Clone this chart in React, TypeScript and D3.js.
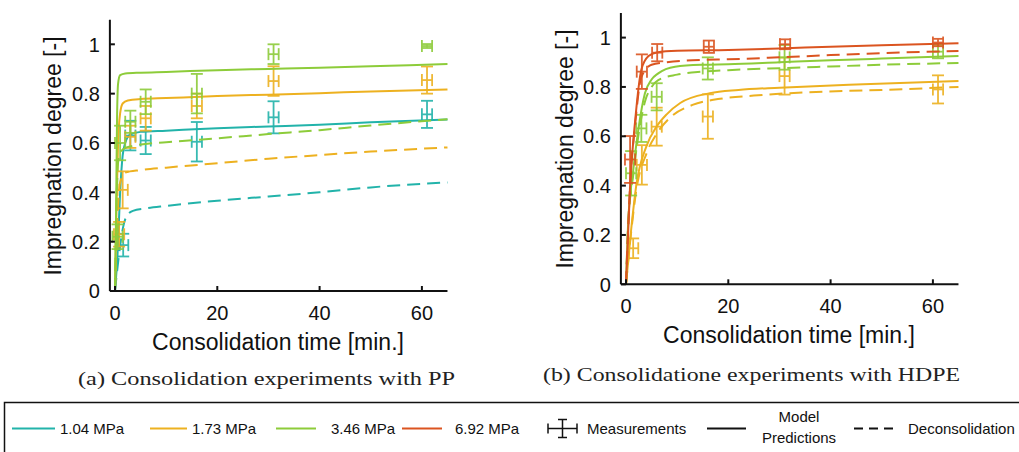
import * as d3 from "d3";

// legend / series
const pressures = ["1.04 MPa", "1.73 MPa", "3.46 MPa", "6.92 MPa"];
const colors = ["#22B3AA", "#EDB120", "#8DCC3A", "#DB5420"];

const xTicks = [0, 20, 40, 60];
const yTicks = [0, 0.2, 0.4, 0.6, 0.8, 1];

// PP measurements (time [min], degree, +/- error)
const ppTealT = [1.6, 3, 6, 16, 31, 61];
const ppTealY = [0.186, 0.63, 0.61, 0.605, 0.704, 0.716];
const ppTealE = [0.046, 0.06, 0.055, 0.08, 0.065, 0.055];
const ppYellowT = [0.8, 1.5, 3, 6, 16, 31, 61];
const ppYellowY = [0.23, 0.41, 0.625, 0.7, 0.75, 0.851, 0.855];
const ppYellowE = [0.05, 0.075, 0.045, 0.05, 0.05, 0.06, 0.055];
const ppGreenT = [0.5, 1, 3, 6, 16, 31, 61];
const ppGreenY = [0.22, 0.6, 0.686, 0.767, 0.8, 0.96, 0.993];
const ppGreenE = [0.05, 0.07, 0.045, 0.05, 0.08, 0.04, 0.008];

// PP model predictions [t, degree]
const ppTealModel = [[0, 0], [0.5, 0.15], [1, 0.4], [1.5, 0.55], [2, 0.6], [3, 0.635], [5, 0.645], [10, 0.65], [20, 0.66], [30, 0.667], [40, 0.674], [50, 0.684], [65, 0.695]];
const ppYellowModel = [[0, 0], [0.3, 0.35], [0.6, 0.6], [1, 0.72], [1.5, 0.76], [2.5, 0.772], [5, 0.778], [10, 0.782], [20, 0.79], [30, 0.796], [40, 0.802], [50, 0.809], [65, 0.817]];
const ppGreenModel = [[0, 0], [0.2, 0.3], [0.4, 0.7], [0.6, 0.84], [1, 0.875], [2, 0.882], [5, 0.885], [10, 0.888], [20, 0.895], [30, 0.9], [40, 0.905], [50, 0.911], [65, 0.92]];
// PP deconsolidation
const ppTealDecon = [[0, 0], [0.8, 0.15], [1.6, 0.26], [2.3, 0.305], [3.5, 0.325], [6, 0.335], [10, 0.345], [20, 0.366], [30, 0.383], [40, 0.4], [50, 0.42], [65, 0.44]];
const ppYellowDecon = [[0, 0], [0.5, 0.3], [1, 0.44], [2, 0.48], [5, 0.49], [10, 0.5], [20, 0.518], [30, 0.536], [40, 0.551], [50, 0.565], [65, 0.582]];
const ppGreenDecon = [[0, 0], [0.3, 0.35], [0.6, 0.52], [1, 0.56], [2, 0.58], [4, 0.59], [10, 0.603], [20, 0.619], [30, 0.636], [40, 0.652], [50, 0.671], [65, 0.696]];

// HDPE measurements
const peYellowT = [1.4, 3.1, 6, 16, 31, 61];
const peYellowY = [0.146, 0.484, 0.639, 0.68, 0.844, 0.79];
const peYellowE = [0.04, 0.08, 0.077, 0.09, 0.075, 0.057];
const peGreenT = [1, 3, 6, 16, 31, 61];
const peGreenY = [0.45, 0.632, 0.76, 0.875, 0.92, 0.943];
const peGreenE = [0.09, 0.055, 0.055, 0.045, 0.05, 0.027];
const peOrangeT = [0.8, 3.1, 6.1, 16.2, 31.1, 61];
const peOrangeY = [0.506, 0.862, 0.939, 0.963, 0.973, 0.98];
const peOrangeE = [0.095, 0.07, 0.035, 0.025, 0.02, 0.015];

// HDPE model predictions
const peYellowModel = [[0, 0], [1, 0.22], [2, 0.4], [4, 0.56], [6, 0.64], [8, 0.69], [10.6, 0.735], [16.4, 0.775], [22, 0.788], [30, 0.797], [45, 0.81], [65, 0.824]];
const peGreenModel = [[0, 0], [0.45, 0.26], [1.4, 0.46], [2.4, 0.625], [3.7, 0.774], [5, 0.83], [6.3, 0.855], [9.6, 0.882], [15, 0.89], [20, 0.892], [30, 0.9], [40, 0.908], [50, 0.915], [65, 0.925]];
const peOrangeModel = [[0, 0], [0.8, 0.4], [1.8, 0.666], [3, 0.87], [4.4, 0.925], [6, 0.94], [10, 0.947], [20, 0.95], [30, 0.956], [40, 0.963], [50, 0.969], [65, 0.977]];
// HDPE deconsolidation
const peYellowDecon = [[0, 0], [1, 0.21], [2, 0.38], [4, 0.53], [6, 0.61], [8.6, 0.675], [13, 0.727], [18.4, 0.752], [25, 0.765], [35, 0.778], [50, 0.788], [65, 0.8]];
const peGreenDecon = [[0, 0], [0.45, 0.25], [1.4, 0.44], [2.4, 0.6], [3.7, 0.74], [5, 0.8], [6.3, 0.828], [10, 0.85], [15, 0.862], [20, 0.868], [30, 0.876], [40, 0.883], [50, 0.89], [65, 0.897]];
const peOrangeDecon = [[0, 0], [0.8, 0.4], [1.8, 0.65], [3, 0.84], [5, 0.89], [8, 0.9], [15, 0.91], [20, 0.912], [30, 0.92], [40, 0.929], [50, 0.937], [65, 0.946]];

const X_ERR = 1;
const CAP = 6;

type Series = {
  color: string;
  t: number[];
  y: number[];
  e: number[];
  model: number[][];
  decon: number[][];
};

const ppSeries: Series[] = [
  { color: colors[0], t: ppTealT, y: ppTealY, e: ppTealE, model: ppTealModel, decon: ppTealDecon },
  { color: colors[1], t: ppYellowT, y: ppYellowY, e: ppYellowE, model: ppYellowModel, decon: ppYellowDecon },
  { color: colors[2], t: ppGreenT, y: ppGreenY, e: ppGreenE, model: ppGreenModel, decon: ppGreenDecon },
];

const peSeries: Series[] = [
  { color: colors[1], t: peYellowT, y: peYellowY, e: peYellowE, model: peYellowModel, decon: peYellowDecon },
  { color: colors[2], t: peGreenT, y: peGreenY, e: peGreenE, model: peGreenModel, decon: peGreenDecon },
  { color: colors[3], t: peOrangeT, y: peOrangeY, e: peOrangeE, model: peOrangeModel, decon: peOrangeDecon },
];

const FONT = "Liberation Sans, Arial, sans-serif";

type PanelProps = {
  x0: number; // pixel of t = 0
  y0: number; // pixel of degree = 0
  series: Series[];
  titleX: number;
  titleY: number;
  xTitleY: number;
  xTitleX: number;
};

const Panel = ({ x0, y0, series, titleX, titleY, xTitleY, xTitleX }: PanelProps) => {
  const pxPerMin = 5.115;
  const pxPerUnit = 246.7;
  const xScale = d3.scaleLinear().domain([-1, 65]).range([x0 - pxPerMin, x0 + 65 * pxPerMin]);
  const yScale = d3.scaleLinear().domain([0, 1.1]).range([y0, y0 - 1.1 * pxPerUnit]);
  const [xa, xb] = xScale.range();
  const [ya, yb] = yScale.range();

  const line = d3
    .line<number[]>()
    .x((d) => xScale(d[0]))
    .y((d) => yScale(d[1]))
    .curve(d3.curveMonotoneX);

  return (
    <g>
      {series.map((s, i) => (
        <g key={i} stroke={s.color} fill="none" strokeWidth={2}>
          <path d={line(s.decon) ?? ""} strokeDasharray="13,7" />
          <path d={line(s.model) ?? ""} />
          {s.t.map((t, j) => {
            const cx = xScale(t);
            const cy = yScale(s.y[j]);
            const top = yScale(s.y[j] + s.e[j]);
            const bot = yScale(s.y[j] - s.e[j]);
            const l = xScale(t - X_ERR);
            const r = xScale(t + X_ERR);
            return (
              <g key={j} strokeWidth={1.8} opacity={0.9}>
                <line x1={cx} x2={cx} y1={top} y2={bot} />
                <line x1={cx - CAP} x2={cx + CAP} y1={top} y2={top} />
                <line x1={cx - CAP} x2={cx + CAP} y1={bot} y2={bot} />
                <line x1={l} x2={r} y1={cy} y2={cy} />
                <line x1={l} x2={l} y1={cy - CAP} y2={cy + CAP} />
                <line x1={r} x2={r} y1={cy - CAP} y2={cy + CAP} />
              </g>
            );
          })}
        </g>
      ))}

      {/* axes */}
      <g stroke="#111" strokeWidth={2} fill="none">
        <line x1={xa} x2={xa} y1={ya} y2={yb} />
        <line x1={xa} x2={xb} y1={ya} y2={ya} />
        {xTicks.map((t) => (
          <line key={t} x1={xScale(t)} x2={xScale(t)} y1={ya} y2={ya - 5} />
        ))}
        {yTicks.map((t) => (
          <line key={t} x1={xa} x2={xa + 5} y1={yScale(t)} y2={yScale(t)} />
        ))}
      </g>
      <g fontFamily={FONT} fontSize={20} fill="#111">
        {xTicks.map((t) => (
          <text key={t} x={xScale(t)} y={ya + 29} textAnchor="middle">
            {t}
          </text>
        ))}
        {yTicks.map((t) => (
          <text key={t} x={xa - 10} y={yScale(t)} dy="0.36em" textAnchor="end">
            {t}
          </text>
        ))}
      </g>
      <text
        fontFamily={FONT}
        fontSize={23}
        fill="#111"
        textAnchor="middle"
        transform={`translate(${titleX},${titleY}) rotate(-90)`}
      >
        Impregnation degree [-]
      </text>
      <text fontFamily={FONT} fontSize={23} fill="#111" textAnchor="middle" x={xTitleX} y={xTitleY}>
        Consolidation time [min.]
      </text>
    </g>
  );
};

const Legend = () => {
  const ly = 428.5;
  const items = [
    { x1: 12, x2: 55, tx: 60 },
    { x1: 150, x2: 187, tx: 192 },
    { x1: 276, x2: 316, tx: 331 },
    { x1: 402, x2: 442, tx: 455 },
  ];
  return (
    <g fontFamily={FONT} fontSize={15} fill="#111">
      <rect x={4.5} y={402.5} width={1040} height={70} fill="none" stroke="#111" strokeWidth={1.5} />
      {items.map((it, i) => (
        <g key={i}>
          <line x1={it.x1} x2={it.x2} y1={ly} y2={ly} stroke={colors[i]} strokeWidth={2} />
          <text x={it.tx} y={ly} dy="0.36em">
            {pressures[i]}
          </text>
        </g>
      ))}
      <g stroke="#111" strokeWidth={1.5}>
        <line x1={548} x2={577} y1={ly} y2={ly} />
        <line x1={548} x2={548} y1={ly - 5} y2={ly + 5} />
        <line x1={577} x2={577} y1={ly - 5} y2={ly + 5} />
        <line x1={562.5} x2={562.5} y1={ly - 9} y2={ly + 9} />
        <line x1={558} x2={567} y1={ly - 9} y2={ly - 9} />
        <line x1={558} x2={567} y1={ly + 9} y2={ly + 9} />
      </g>
      <text x={587} y={ly} dy="0.36em">Measurements</text>
      <line x1={707} x2={746} y1={ly} y2={ly} stroke="#111" strokeWidth={2} />
      <text x={799} y={417} dy="0.36em" textAnchor="middle">Model</text>
      <text x={799} y={438} dy="0.36em" textAnchor="middle">Predictions</text>
      <line x1={854} x2={894} y1={ly} y2={ly} stroke="#111" strokeWidth={2} strokeDasharray="9,6" />
      <text x={908} y={ly} dy="0.36em">Deconsolidation</text>
    </g>
  );
};

export default function App() {
  return (
    <svg
      width={1019}
      height={452}
      style={{ position: "absolute", left: 0, top: 0, background: "#fff" }}
    >
      <Panel x0={115} y0={291} series={ppSeries} titleX={60.5} titleY={156} xTitleX={278} xTitleY={350} />
      <Panel x0={626} y0={284.3} series={peSeries} titleX={572.5} titleY={149} xTitleX={789} xTitleY={343} />
      <g fontFamily="Liberation Serif, serif" fontSize={19} fill="#222">
        <text x={78} y={385} textLength={377} lengthAdjust="spacingAndGlyphs">
          (a) Consolidation experiments with PP
        </text>
        <text x={543} y={381} textLength={417} lengthAdjust="spacingAndGlyphs">
          (b) Consolidatione experiments with HDPE
        </text>
      </g>
      <Legend />
    </svg>
  );
}
